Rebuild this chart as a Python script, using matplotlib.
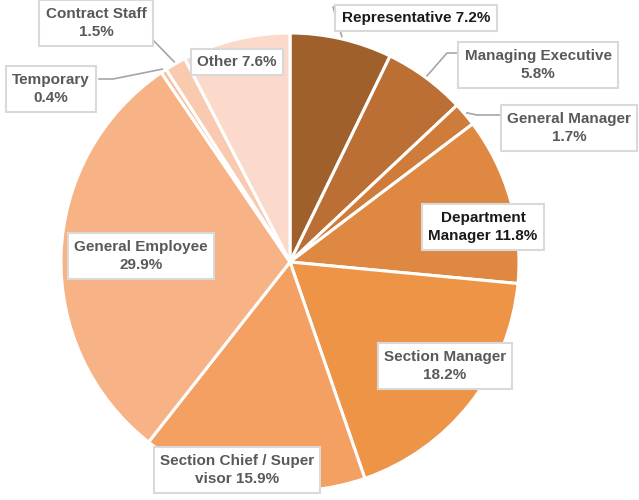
import numpy as np
import matplotlib.pyplot as plt

labels = ['Representative', 'Managing Executive', 'General Manager', 'Department\nManager',
          'Section Manager', 'Section Chief / Super\nvisor', 'General Employee',
          'Temporary', 'Contract Staff', 'Other']
shares = [7.2, 5.8, 1.7, 11.8, 18.2, 15.9, 29.9, 0.4, 1.5, 7.6]
colors = ['#A0602C', '#BB6F34', '#CF7C3B', '#DF8841', '#EE9446',
          '#F4A062', '#F7B386', '#F8BF9C', '#F9C9B0', '#FBD9CB']

# label text as it appears in the chart
label_text = ['Representative 7.2%', 'Managing Executive\n5.8%', 'General Manager\n1.7%',
              'Department\nManager 11.8%', 'Section Manager\n18.2%',
              'Section Chief / Super\nvisor 15.9%', 'General Employee\n29.9%',
              'Temporary\n0.4%', 'Contract Staff\n1.5%', 'Other 7.6%']

# pixel layout of the reference
CX, CY, R = 290, 262, 229
W, H = 639, 500

def px(x, y):
    return (x - CX) / R, (CY - y) / R

# label box centres (pixels) and optional leader elbow/end points
label_pos = [(416, 18), (538, 65), (569, 128), (483, 227), (445, 366),
             (237, 470), (141, 256), (51, 89), (96, 23), (237, 62)]
leaders = {0: [(333, 7), (343, 7)],
           1: [(447, 53), (459, 53)],
           2: [(477, 115), (500, 115)],
           7: [(113, 79), (99, 79)],
           8: [(153, 40)]}
dark = {0, 3}

fig = plt.figure(figsize=(W / 100, H / 100), dpi=100)
ax = fig.add_axes([0, 0, 1, 1])
ax.pie(shares, colors=colors, startangle=90, counterclock=False, radius=1,
       wedgeprops=dict(edgecolor='white', linewidth=2.2))
ax.set_xlim(-CX / R, (W - CX) / R)
ax.set_ylim(-(H - CY) / R, CY / R)
ax.set_aspect('auto')
ax.axis('off')

cum = np.cumsum([0] + shares)
for i, pts in leaders.items():
    mid = (cum[i] + cum[i + 1]) / 2 / 100 * 2 * np.pi
    xs = [np.sin(mid) * 1.01]
    ys = [np.cos(mid) * 1.01]
    for p in pts:
        dx, dy = px(*p)
        xs.append(dx)
        ys.append(dy)
    ax.plot(xs, ys, color='#A6A6A6', lw=1.2, zorder=3)

for i, txt in enumerate(label_text):
    x, y = px(*label_pos[i])
    ax.text(x, y, txt, ha='center', va='center', fontsize=11,
            family='Liberation Sans', weight='bold', linespacing=1.4,
            color='#1a1a1a' if i in dark else '#595959', zorder=5,
            bbox=dict(boxstyle='square,pad=0.42', fc='white', ec='#D9D9D9', lw=1.5))

fig.savefig('out.png', dpi=100)
